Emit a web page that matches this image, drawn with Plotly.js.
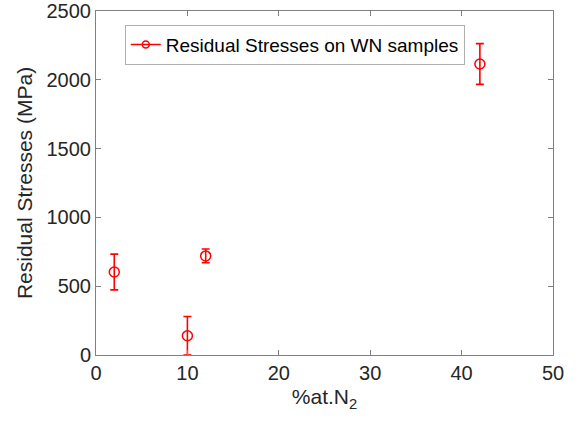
<!DOCTYPE html>
<html>
<head>
<meta charset="utf-8">
<script src="https://cdn.plot.ly/plotly-3.0.1.min.js"></script>
<style>html,body{margin:0;padding:0;background:#fff;}#chart{width:578px;height:425px;}</style>
</head>
<body>
<div id="chart"></div>
<script>
const nitrogen = [2, 10, 12, 42];
const stress = [603, 140, 720, 2115];
const stressErr = [130, 140, 50, 148];
const xTicks = [0, 10, 20, 30, 40, 50];
const yTicks = [0, 500, 1000, 1500, 2000, 2500];
const seriesName = 'Residual Stresses on WN samples';

const red = '#ff0000';
const traces = [
  {
    x: nitrogen, y: stress, type: 'scatter', mode: 'markers',
    showlegend: false,
    marker: {symbol: 'circle-open', size: 10, color: red, line: {width: 1.5, color: red}},
    error_y: {type: 'data', array: stressErr, visible: true, color: red, thickness: 1.6, width: 4}
  },
  {
    x: [null], y: [null], type: 'scatter', mode: 'lines+markers', name: seriesName,
    line: {color: red, width: 1.5},
    marker: {symbol: 'circle-open', size: 7, color: red, line: {width: 1.5, color: red}}
  }
];
const axisCommon = {
  showgrid: false, zeroline: false, showline: true, mirror: 'ticks',
  linecolor: '#808080', linewidth: 1, ticks: 'inside', ticklen: 5, tickcolor: '#808080',
  tickfont: {family: 'Liberation Sans, Arial, sans-serif', size: 20, color: '#262626'}
};
const layout = {
  width: 578, height: 425,
  margin: {l: 96, r: 25, t: 11, b: 70},
  paper_bgcolor: '#fff', plot_bgcolor: '#fff',
  font: {family: 'Liberation Sans, Arial, sans-serif', color: '#262626'},
  xaxis: Object.assign({}, axisCommon, {
    range: [0, 50], tickvals: xTicks, ticktext: xTicks.map(String),
    title: {text: '%at.N<sub>2</sub>', font: {size: 21, color: '#262626'}, standoff: 6}
  }),
  yaxis: Object.assign({}, axisCommon, {
    range: [0, 2500], tickvals: yTicks, ticktext: yTicks.map(String),
    title: {text: 'Residual Stresses (MPa)', font: {size: 21, color: '#262626'}, standoff: 8}
  }),
  showlegend: true,
  legend: {
    x: 0.063, y: 0.96, xanchor: 'left', yanchor: 'top',
    bgcolor: '#fff', bordercolor: '#b0b0b0', borderwidth: 1,
    font: {size: 19, color: '#000'}, itemwidth: 30
  }
};
Plotly.newPlot('chart', traces, layout, {displayModeBar: false, staticPlot: true});
</script>
</body>
</html>
